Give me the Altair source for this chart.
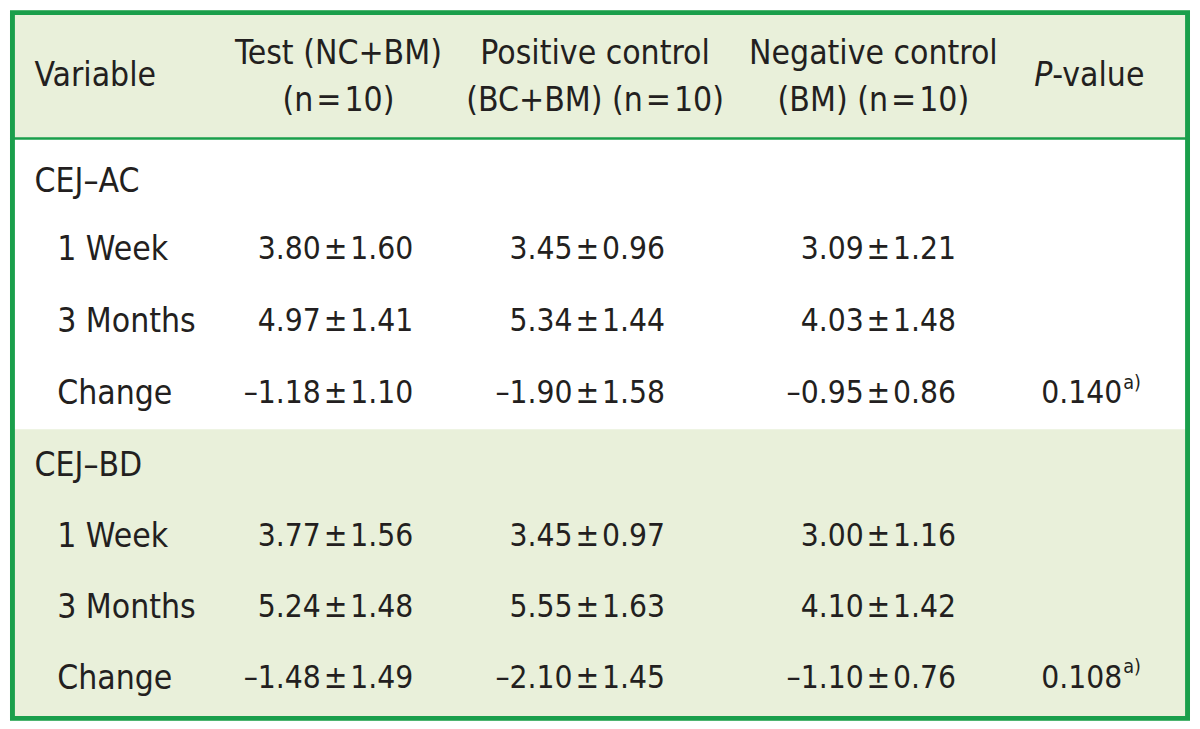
import altair as alt
import pandas as pd

# ---- data ----
header_line1 = ["Test (NC+BM)", "Positive control", "Negative control"]
header_line2 = ["(n\u200a=\u200a10)", "(BC+BM) (n\u200a=\u200a10)", "(BM) (n\u200a=\u200a10)"]
groups = ["CEJ–AC", "CEJ–BD"]
times = ["1 Week", "3 Months", "Change"]
test_mean = [3.80, 4.97, -1.18, 3.77, 5.24, -1.48]
test_sd = [1.60, 1.41, 1.10, 1.56, 1.48, 1.49]
pos_mean = [3.45, 5.34, -1.90, 3.45, 5.55, -2.10]
pos_sd = [0.96, 1.44, 1.58, 0.97, 1.63, 1.45]
neg_mean = [3.09, 4.03, -0.95, 3.00, 4.10, -1.10]
neg_sd = [1.21, 1.48, 0.86, 1.16, 1.42, 0.76]
p_values = ["0.140", "0.108"]
p_note = "a)"

# ---- layout (reference pixel coordinates) ----
W, H = 1200, 729
S = 1184 / 1200
FONT = "DejaVu Sans Condensed"
FS = 34 * S
FN = 32 * S
GREEN = "#1a9f4b"
FILL = "#e9f0da"
col_center = [334, 595, 878]
col_right = [410, 666, 962]
group_y = [176, 468]
time_y = [[246, 320, 394], [540, 613, 686]]


def fmt(m, s):
    return f"{m:.2f}".replace("-", "–") + "\u200a±\u200a" + f"{s:.2f}"


left_rows, right_rows, center_rows = [], [], []
left_rows.append({"x": 25, "y": 68, "t": "Variable"})
for i in range(3):
    center_rows.append({"x": col_center[i], "y": 45, "t": header_line1[i]})
    center_rows.append({"x": col_center[i], "y": 93, "t": header_line2[i]})
means = [test_mean, pos_mean, neg_mean]
sds = [test_sd, pos_sd, neg_sd]
for g in range(2):
    left_rows.append({"x": 25, "y": group_y[g], "t": groups[g]})
    for r in range(3):
        k = g * 3 + r
        left_rows.append({"x": 48, "y": time_y[g][r], "t": times[r]})
        for c in range(3):
            right_rows.append({"x": col_right[c], "y": time_y[g][r], "t": fmt(means[c][k], sds[c][k])})
    right_rows.append({"x": 1131, "y": time_y[g][2], "t": p_values[g]})

sup_rows = [{"x": 1132, "y": time_y[g][2] - 12, "t": p_note} for g in range(2)]

xs = alt.Scale(domain=[0, W], nice=False, zero=False)
ys = alt.Scale(domain=[0, H], nice=False, zero=False, reverse=True)
X = lambda f="x": alt.X(f"{f}:Q", scale=xs, axis=None)
Y = lambda f="y": alt.Y(f"{f}:Q", scale=ys, axis=None)

bands = pd.DataFrame([
    {"x": 0, "x2": W, "y": 0, "y2": 131},
    {"x": 0, "x2": W, "y": 430, "y2": H},
])
band_layer = alt.Chart(bands).mark_rect(fill=FILL).encode(
    x=X(), x2="x2:Q", y=Y(), y2="y2:Q")

rule_df = pd.DataFrame([{"x": 0, "x2": W, "y": 131.5}])
rule_layer = alt.Chart(rule_df).mark_rule(color=GREEN, strokeWidth=2.5).encode(
    x=X(), x2="x2:Q", y=Y())

border_df = pd.DataFrame([{"x": 2.5, "x2": W - 2.5, "y": 2.5, "y2": H - 2.5}])
border_layer = alt.Chart(border_df).mark_rect(
    fill=None, stroke=GREEN, strokeWidth=5 * S).encode(
    x=X(), x2="x2:Q", y=Y(), y2="y2:Q")


def text_layer(rows, align, size=FS, style="normal"):
    return alt.Chart(pd.DataFrame(rows)).mark_text(
        align=align, baseline="middle", font=FONT, fontSize=size,
        fontStyle=style, color="#231f20").encode(x=X(), y=Y(), text="t:N")


pv_italic = text_layer([{"x": 1060, "y": 68, "t": "P"}], "right", style="italic")
pv_rest = text_layer([{"x": 1060, "y": 68, "t": "-value"}], "left")

chart = alt.layer(
    band_layer, rule_layer,
    text_layer(left_rows, "left"),
    text_layer(center_rows, "center"),
    text_layer(right_rows, "right", size=FN),
    text_layer(sup_rows, "left", size=20 * S),
    pv_italic, pv_rest,
    border_layer,
).properties(width=1184, height=713, padding=0).configure_view(stroke=None)

chart.save("out.html", embed_options={"renderer": "svg", "actions": False})
